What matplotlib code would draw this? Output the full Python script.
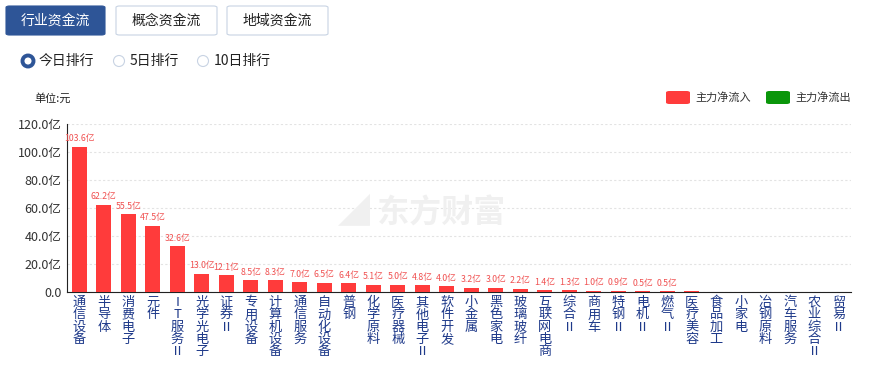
import matplotlib
matplotlib.use("Agg")
import matplotlib.pyplot as plt
from matplotlib.patches import FancyBboxPatch, Ellipse

plt.rcParams['font.family'] = ['Noto Sans CJK SC', 'DejaVu Sans']

categories = ["通信设备", "半导体", "消费电子", "元件", "IT服务Ⅱ", "光学光电子", "证券Ⅱ",
              "专用设备", "计算机设备", "通信服务", "自动化设备", "普钢", "化学原料", "医疗器械",
              "其他电子Ⅱ", "软件开发", "小金属", "黑色家电", "玻璃玻纤", "互联网电商", "综合Ⅱ",
              "商用车", "特钢Ⅱ", "电机Ⅱ", "燃气Ⅱ", "医疗美容", "食品加工", "小家电",
              "冶钢原料", "汽车服务", "农业综合Ⅱ", "贸易Ⅱ"]
inflow = [103.6, 62.2, 55.5, 47.5, 32.6, 13.0, 12.1, 8.5, 8.3, 7.0, 6.5, 6.4, 5.1, 5.0,
          4.8, 4.0, 3.2, 3.0, 2.2, 1.4, 1.3, 1.0, 0.9, 0.5, 0.5, 0.4, 0.3, 0.3,
          0.2, 0.1, 0.1, 0.05]
yticks = [0, 20, 40, 60, 80, 100, 120]

W, H = 876, 367
fig = plt.figure(figsize=(W / 100, H / 100), dpi=100)

def fx(px): return px / W
def fy(py): return 1 - py / H

# top tab buttons
tabs = [("行业资金流", 6, 105, True), ("概念资金流", 116, 217, False), ("地域资金流", 227, 328, False)]
for label, x0, x1, active in tabs:
    box = FancyBboxPatch((fx(x0), fy(35)), fx(x1 - x0), 29 / H,
                         boxstyle="round,pad=0,rounding_size=0.004",
                         transform=fig.transFigure,
                         facecolor="#2e5597" if active else "white",
                         edgecolor="#2e5597" if active else "#c8d3e3", lw=0.8)
    fig.patches.append(box)
    fig.text(fx((x0 + x1) / 2), fy(21), label, ha="center", va="center", fontsize=10,
             color="white" if active else "#222222")

# radio buttons
radios = [("今日排行", 28, True), ("5日排行", 119, False), ("10日排行", 203, False)]
for label, cx, on in radios:
    c = Ellipse((fx(cx), fy(61)), 11 / W, 11 / H, transform=fig.transFigure,
                facecolor="white", edgecolor="#2e5597" if on else "#c8d3e3",
                lw=2.8 if on else 0.8)
    fig.patches.append(c)
    fig.text(fx(cx + 11), fy(61), label, ha="left", va="center", fontsize=10, color="#222222")

fig.text(fx(34), fy(98), "单位:元", ha="left", va="center", fontsize=8, color="#222222")

# legend
for label, x0, col in [("主力净流入", 666, "#ff3b3b"), ("主力净流出", 766, "#0a960a")]:
    r = FancyBboxPatch((fx(x0), fy(104)), fx(24), 13 / H,
                       boxstyle="round,pad=0,rounding_size=0.004",
                       transform=fig.transFigure, facecolor=col, edgecolor="none")
    fig.patches.append(r)
    fig.text(fx(x0 + 29), fy(97.5), label, ha="left", va="center", fontsize=8, color="#333333")

# watermark
fig.text(fx(338), fy(212), "◢ 东方财富", ha="left", va="center", fontsize=23,
         color="#f0f0f0", fontweight="bold", zorder=0)

ax = fig.add_axes([fx(67), fy(292), fx(851 - 67), 168 / H])
ax.patch.set_alpha(0)
x = list(range(len(categories)))
ax.bar(x, inflow, width=0.6, color="#ff3b3b", zorder=3)
for xi, v in zip(x, inflow):
    if v >= 0.5:
        ax.text(xi, v + 2.5, f"{v:.1f}亿", ha="center", va="bottom", fontsize=6.3,
                color="#f05050")

ax.set_xlim(-0.5, len(categories) - 0.5)
ax.set_ylim(0, 120)
ax.set_yticks(yticks)
ax.set_yticklabels([f"{t:.1f}亿" if t else "0.0" for t in yticks], fontsize=9, color="#333333")
ax.yaxis.grid(True, linestyle=(0, (2, 2)), color="#e3e3e3", lw=0.8)
ax.set_axisbelow(True)
ax.tick_params(axis="y", length=0, pad=4)
ax.tick_params(axis="x", length=0, pad=3)
ax.set_xticks(x)
ax.set_xticklabels(["\n".join(c) for c in categories], fontsize=9.5, color="#1f3a8a",
                   va="top", linespacing=0.92)
for s in ["top", "right"]:
    ax.spines[s].set_visible(False)
ax.spines["left"].set_color("#222222")
ax.spines["bottom"].set_color("#222222")
ax.spines["left"].set_linewidth(0.8)
ax.spines["bottom"].set_linewidth(0.8)

fig.savefig("out.png", dpi=100)
